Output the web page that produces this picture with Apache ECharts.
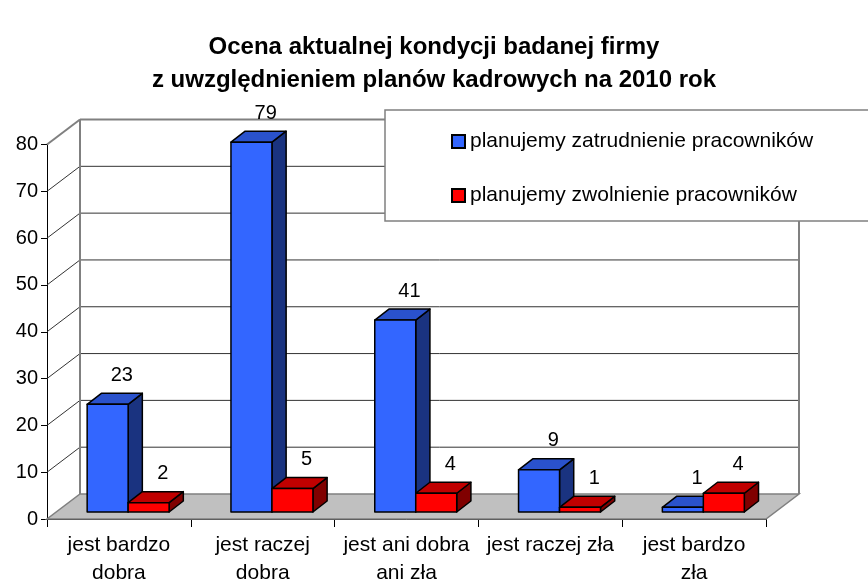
<!DOCTYPE html>
<html>
<head>
<meta charset="utf-8">
<script src="https://cdn.jsdelivr.net/npm/echarts@6/dist/echarts.min.js"></script>
<style>
  html, body { margin: 0; padding: 0; background: #fff; }
  #chart { width: 868px; height: 583px; }
</style>
</head>
<body>
<div id="chart"></div>
<script>
// dane z wykresu
const categories = ['jest bardzo\ndobra', 'jest raczej\ndobra', 'jest ani dobra\nani zła', 'jest raczej zła', 'jest bardzo\nzła']
const hireValues = [23, 79, 41, 9, 1]
const fireValues = [2, 5, 4, 1, 4]
const yTicks = [0, 10, 20, 30, 40, 50, 60, 70, 80]
const seriesNames = ['planujemy zatrudnienie pracowników', 'planujemy zwolnienie pracowników']

// przesuniecie glebi (efekt 3D)
const DX = 33
const DY = -25
const FONT = 'Liberation Sans, Arial, sans-serif'

const myChart = echarts.init(document.getElementById('chart'))

// sciany i podloga
const renderWalls = (params, api) => {
  const cs = params.coordSys
  const x0 = cs.x
  const x1 = cs.x + cs.width
  const yb = api.coord([0, 0])[1]
  const yt = api.coord([0, yTicks[yTicks.length - 1]])[1]
  const children = []
  yTicks.forEach((v) => {
    if (v === 0) return
    const y = api.coord([0, v])[1]
    const last = v === yTicks[yTicks.length - 1]
    children.push({
      type: 'line',
      shape: { x1: x0 + DX, y1: y + DY, x2: x1 + DX, y2: y + DY },
      style: { stroke: last ? '#808080' : '#333', lineWidth: last ? 2 : 1 },
    })
    children.push({
      type: 'line',
      shape: { x1: x0, y1: y, x2: x0 + DX, y2: y + DY },
      style: { stroke: last ? '#808080' : '#333', lineWidth: last ? 2 : 1 },
    })
  })
  // krawedzie tylnej sciany
  children.push({
    type: 'line',
    shape: { x1: x0 + DX, y1: yt + DY, x2: x0 + DX, y2: yb + DY },
    style: { stroke: '#808080', lineWidth: 2 },
  })
  children.push({
    type: 'line',
    shape: { x1: x1 + DX, y1: yt + DY, x2: x1 + DX, y2: yb + DY },
    style: { stroke: '#808080', lineWidth: 2 },
  })
  // podloga
  children.push({
    type: 'polygon',
    shape: { points: [[x0, yb], [x1, yb], [x1 + DX, yb + DY], [x0 + DX, yb + DY]] },
    style: { fill: '#c0c0c0', stroke: '#808080', lineWidth: 1.5 },
  })
  return { type: 'group', children }
}

const makeBarRenderer = (side, colors) => (params, api) => {
  const cat = api.value(0)
  const val = api.value(1)
  const top = api.coord([cat, val])
  const base = api.coord([cat, 0])
  const barW = api.size([1, 0])[0] * 0.285
  const ox = DX * 0.28
  const oy = DY * 0.28
  const bx = DX * 0.43
  const by = DY * 0.44
  const xl = (side === 0 ? top[0] - barW : top[0]) + ox
  const xr = xl + barW
  const yt = top[1] + oy
  const yb = base[1] + oy
  const stroke = { stroke: '#000', lineWidth: 1.5, lineJoin: 'round' }
  return {
    type: 'group',
    children: [
      {
        type: 'polygon',
        shape: { points: [[xr, yt], [xr + bx, yt + by], [xr + bx, yb + by], [xr, yb]] },
        style: Object.assign({ fill: colors[2] }, stroke),
      },
      {
        type: 'polygon',
        shape: { points: [[xl, yt], [xl + bx, yt + by], [xr + bx, yt + by], [xr, yt]] },
        style: Object.assign({ fill: colors[1] }, stroke),
      },
      {
        type: 'rect',
        shape: { x: xl, y: yt, width: barW, height: yb - yt },
        style: Object.assign({ fill: colors[0] }, stroke),
      },
      {
        type: 'text',
        style: {
          text: String(val),
          x: (xl + xr) / 2 + bx,
          y: yt - 29,
          align: 'center',
          verticalAlign: 'middle',
          fill: '#000',
          font: '20px ' + FONT,
        },
      },
    ],
  }
}

const blue = ['#3366ff', '#2a52cc', '#1a3380']
const red = ['#ff0000', '#c00000', '#800000']

const option = {
  animation: false,
  backgroundColor: '#fff',
  title: {
    text: 'Ocena aktualnej kondycji badanej firmy\nz uwzględnieniem planów kadrowych na 2010 rok',
    left: 'center',
    top: 26,
    textStyle: {
      fontFamily: FONT,
      fontSize: 24,
      fontWeight: 'bold',
      lineHeight: 33,
      color: '#000',
      align: 'center',
    },
  },
  grid: {
    left: 47,
    top: 144.5,
    width: 719,
    height: 374.5,
    outerBoundsMode: 'none',
    containLabel: false,
  },
  legend: {
    orient: 'vertical',
    left: 446,
    top: 126,
    itemWidth: 13,
    itemHeight: 13,
    itemGap: 33,
    icon: 'rect',
    z: 12,
    data: seriesNames,
    textStyle: { fontFamily: FONT, fontSize: 21, color: '#000' },
    selectedMode: false,
  },
  graphic: [
    {
      type: 'rect',
      z: 10,
      shape: { x: 385, y: 110, width: 540, height: 111 },
      style: { fill: '#fff', stroke: '#808080', lineWidth: 1.5 },
    },
  ],
  xAxis: {
    type: 'category',
    data: categories,
    axisLine: { lineStyle: { color: '#000', width: 1 } },
    axisTick: { show: true, length: 8, lineStyle: { color: '#000' } },
    axisLabel: {
      interval: 0,
      margin: 12,
      color: '#000',
      fontFamily: FONT,
      fontSize: 21,
      lineHeight: 28,
    },
  },
  yAxis: {
    type: 'value',
    min: 0,
    max: 80,
    interval: 10,
    axisLine: { show: true, lineStyle: { color: '#000', width: 1 } },
    axisTick: { show: true, length: 6, lineStyle: { color: '#000' } },
    splitLine: { show: false },
    axisLabel: { margin: 9, color: '#000', fontFamily: FONT, fontSize: 20 },
  },
  series: [
    {
      type: 'custom',
      silent: true,
      clip: false,
      z: 1,
      renderItem: renderWalls,
      data: [[0, 0]],
    },
    {
      name: seriesNames[0],
      type: 'custom',
      clip: false,
      z: 3,
      itemStyle: { color: blue[0], borderColor: '#000', borderWidth: 1 },
      renderItem: makeBarRenderer(0, blue),
      data: hireValues.map((v, i) => [i, v]),
    },
    {
      name: seriesNames[1],
      type: 'custom',
      clip: false,
      z: 3,
      itemStyle: { color: red[0], borderColor: '#000', borderWidth: 1 },
      renderItem: makeBarRenderer(1, red),
      data: fireValues.map((v, i) => [i, v]),
    },
  ],
}

myChart.setOption(option)

window.addEventListener('resize', () => {
  myChart.resize()
})
</script>
</body>
</html>
